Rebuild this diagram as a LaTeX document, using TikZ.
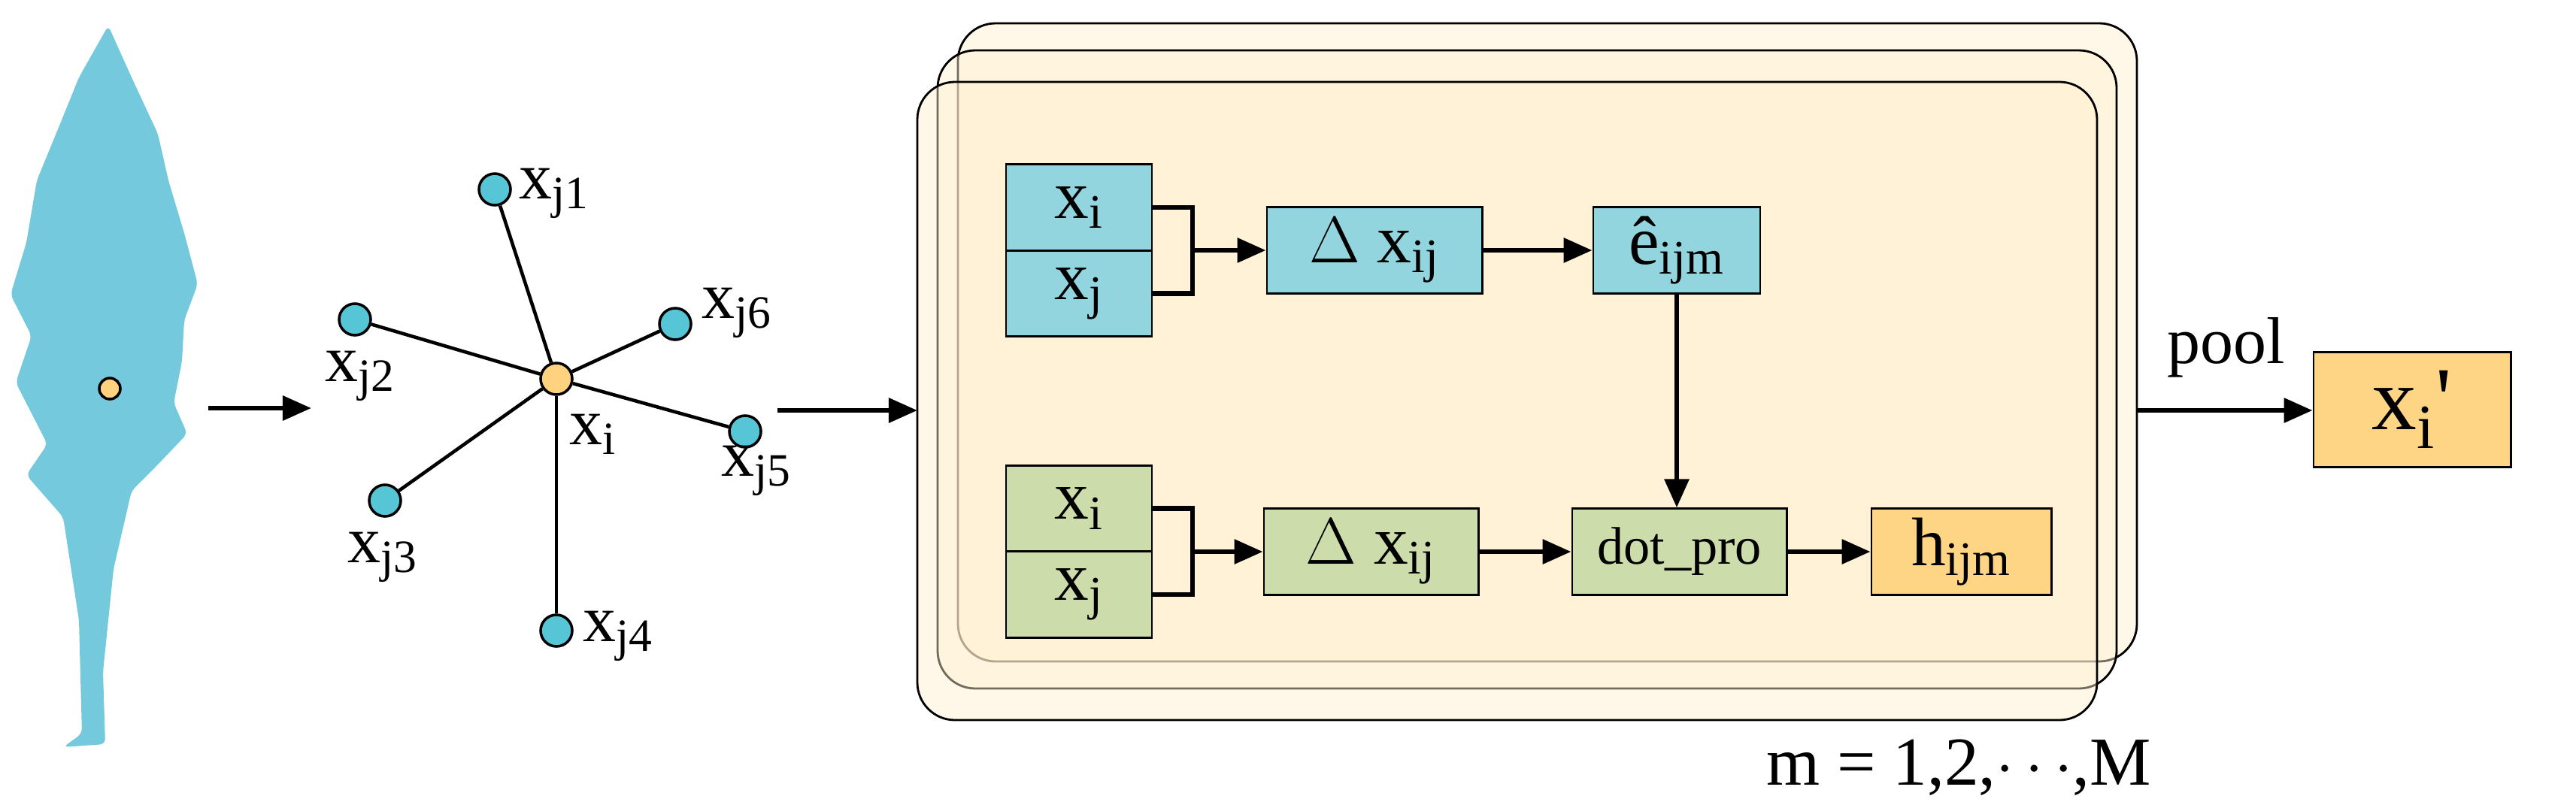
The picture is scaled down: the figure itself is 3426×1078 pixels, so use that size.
\documentclass[tikz,border=0pt]{standalone}
\usepackage{fontspec}
\setmainfont{Liberation Serif}
\usetikzlibrary{arrows.meta}
\definecolor{treec}{HTML}{74C9DC}
\definecolor{nodec}{HTML}{56C5D6}
\definecolor{orc}{HTML}{FFD27F}
\definecolor{bluebox}{HTML}{93D5DE}
\definecolor{greenbox}{HTML}{CCDCAA}
\definecolor{orbox}{HTML}{FDD585}
\definecolor{bgc}{HTML}{FFEFCF}
\begin{document}
\begin{tikzpicture}[x=0.01cm,y=-0.01cm,
  nb/.style={circle,draw=black,line width=1pt,fill=nodec,minimum size=0.42cm,inner sep=0pt},
  cb/.style={circle,draw=black,line width=1pt,fill=orc,minimum size=0.42cm,inner sep=0pt},
  glab/.style={font=\fontsize{25}{27}\selectfont,inner sep=0pt},
  edge/.style={line width=1.3pt},
  arr/.style={line width=1.8pt,-{Triangle[length=0.38cm,width=0.32cm]}},
  box/.style={draw=black,line width=0.8pt,minimum height=1.145cm,inner sep=0pt,font=\fontsize{26}{28}\selectfont},
  layer/.style={draw=black,line width=0.8pt,fill=bgc,fill opacity=0.45,rounded corners=0.5cm}]
\useasboundingbox (0,0) rectangle (3426,1078);
% tree
\fill[treec,rounded corners=2pt] (144,34) -- (175,103) -- (210,178) -- (224,240) -- (245,310) -- (263,378) -- (245,426) -- (242,481) -- (231,536) -- (249,577) -- (210,618) -- (175,653) -- (151,757) -- (137,894) -- (140,990) -- (84,994) -- (109,976) -- (105,825) -- (84,688) -- (35,632) -- (63,591) -- (21,509) -- (42,447) -- (14,392) -- (35,323) -- (49,240) -- (77,172) -- (105,103) -- cycle;
\node[cb,minimum size=0.28cm] (tp) at (146,517) {};
% graph
\node[cb] (c) at (740,504) {};
\node[nb] (j1) at (658,252) {};
\node[nb] (j2) at (472,425) {};
\node[nb] (j3) at (512,666) {};
\node[nb] (j4) at (740,839) {};
\node[nb] (j5) at (991,574) {};
\node[nb] (j6) at (898,431) {};
\foreach \n in {j1,j2,j3,j4,j5,j6} \draw[edge] (c) -- (\n);
\node[glab] (l1) at (737,257) {x\textsubscript{j1}};
\node[glab] (l2) at (479,500) {x\textsubscript{j2}};
\node[glab] (l3) at (509,741) {x\textsubscript{j3}};
\node[glab] (l4) at (822,846) {x\textsubscript{j4}};
\node[glab] (l5) at (1006,626) {x\textsubscript{j5}};
\node[glab] (l6) at (980,416) {x\textsubscript{j6}};
\node[glab] (li) at (789,578) {x\textsubscript{i}};
\coordinate (a1s) at (277,543); \coordinate (a1e) at (414,543);
\draw[arr] (a1s) -- (a1e);
\coordinate (a2s) at (1034,546);
% layers
\draw[layer] (1274,31) rectangle (2842,880);
\draw[layer] (1247,67) rectangle (2815,916);
\draw[layer] (1220,109) rectangle (2789,958);
\coordinate (a2e) at (1220,546);
\draw[arr] (a2s) -- (a2e);
% top row
\node[box,fill=bluebox,minimum width=1.94cm] (ti) at (1435,276) {x\textsubscript{i}};
\node[box,fill=bluebox,minimum width=1.94cm] (tj) at (1435,390.5) {x\textsubscript{j}};
\node[box,fill=bluebox,minimum width=2.86cm] (td) at (1828,333) {$\Delta$ x\textsubscript{ij}};
\node[box,fill=bluebox,minimum width=2.22cm] (te) at (2230,333) {ê\textsubscript{ijm}};
\coordinate (tb) at (1586,333);
\draw[line width=1.8pt] (ti.east) -| (tb) |- (tj.east);
\draw[arr] (tb) -- (td.west);
\draw[arr] (td) -- (te);
% bottom row
\node[box,fill=greenbox,minimum width=1.94cm] (bi) at (1435,676.5) {x\textsubscript{i}};
\node[box,fill=greenbox,minimum width=1.94cm] (bj) at (1435,791) {x\textsubscript{j}};
\node[box,fill=greenbox,minimum width=2.85cm] (bd) at (1823.5,734) {$\Delta$ x\textsubscript{ij}};
\node[box,fill=greenbox,minimum width=2.85cm,font=\fontsize{20}{22}\selectfont] (dp) at (2233.5,734) {dot\_pro};
\node[box,fill=orbox,minimum width=2.39cm] (h) at (2608.5,734) {h\textsubscript{ijm}};
\coordinate (bb) at (1586,734);
\draw[line width=1.8pt] (bi.east) -| (bb) |- (bj.east);
\draw[arr] (bb) -- (bd.west);
\draw[arr] (bd) -- (dp);
\draw[arr] (dp) -- (h);
\draw[arr] (te.south) -- (te.south |- dp.north);
% output
\node[box,fill=orbox,minimum width=2.62cm,minimum height=1.53cm,font=\fontsize{34}{36}\selectfont] (xo) at (3208,545) {x\textsubscript{i}\textquotesingle};
\coordinate (ps) at (2842,546);
\draw[arr] (ps) -- (ps -| xo.west);
\node[font=\fontsize{25}{27}\selectfont] (pool) at (2961,462) {pool};
\node[font=\fontsize{26}{28}\selectfont] (mm) at (2605,1021) {m = 1,2,$\cdots$,M};
\end{tikzpicture}
\end{document}
